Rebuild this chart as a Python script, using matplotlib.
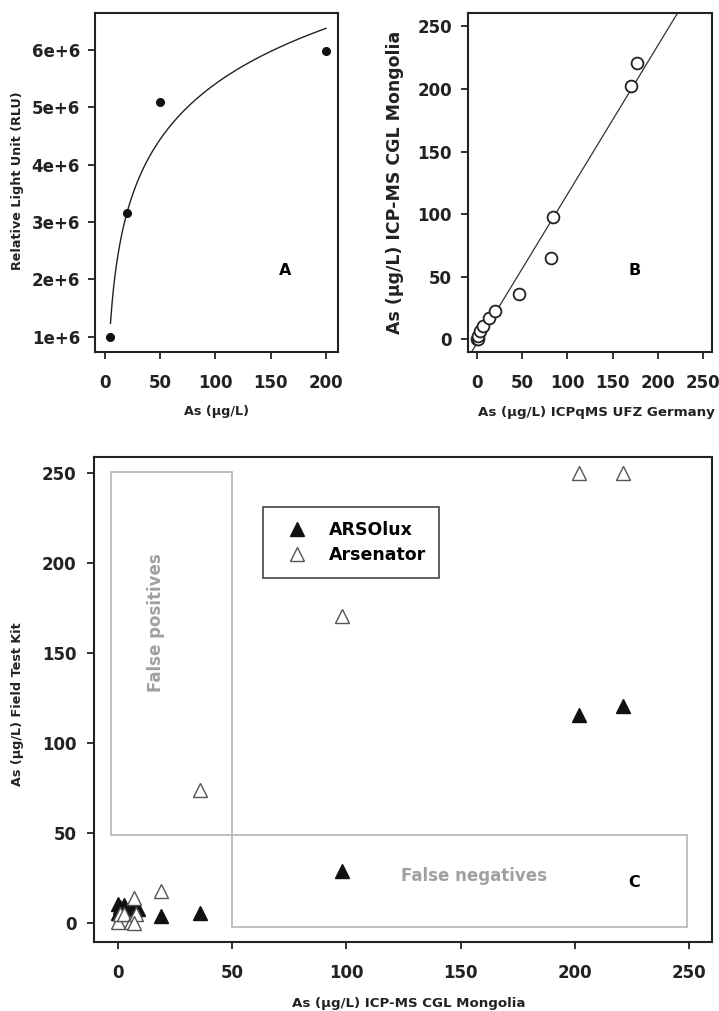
import numpy as np
import matplotlib
matplotlib.use('Agg')
import matplotlib.pyplot as plt
from matplotlib.patches import Rectangle
from matplotlib.lines import Line2D

# ── Data ──────────────────────────────────────────────────────────────────────
# A: biosensor calibration (As standard vs. luminescence)
calib_as  = [5, 20, 50, 200]
calib_rlu = [1.0e6, 3.15e6, 5.09e6, 5.98e6]

# B: lab inter-comparison, UFZ Germany vs. CGL Mongolia
ufz_as = [0, 1, 2, 4, 7, 14, 20, 47, 82, 84, 170, 177]
cgl_as = [0, 0, 3, 7, 11, 17, 23, 36, 65, 98, 202, 221]

# C: field test kits vs. ICP-MS
arsolux_x   = [0, 0, 1, 3, 5, 7, 9, 19, 36, 98, 202, 221]
arsolux_y   = [6, 11, 9, 10, 8, 9, 8, 4, 6, 29, 116, 121]
arsenator_x = [0, 1, 3, 6, 7, 8, 7, 19, 36, 98, 202, 221]
arsenator_y = [1, 5, 5, 1, 14, 5, 0, 18, 74, 171, 250, 250]

ticks_250 = [0, 50, 100, 150, 200, 250]
rlu_ticks = [1e6, 2e6, 3e6, 4e6, 5e6, 6e6]
rlu_labels = ['1e+6', '2e+6', '3e+6', '4e+6', '5e+6', '6e+6']

# ── Style ─────────────────────────────────────────────────────────────────────
plt.rcParams.update({
    'font.family': ['DejaVu Sans'],
    'font.weight': 'bold',
    'axes.edgecolor': '#222222',
    'axes.linewidth': 1.5,
    'xtick.major.size': 4.8,
    'ytick.major.size': 4.8,
    'xtick.major.width': 1.3,
    'ytick.major.width': 1.3,
    'xtick.labelsize': 12,
    'ytick.labelsize': 12,
})

W, H = 719, 1011
fig = plt.figure(figsize=(W / 100, H / 100), dpi=100)


def px_axes(left, top, right, bottom):
    return fig.add_axes([left / W, 1 - bottom / H, (right - left) / W, (bottom - top) / H])


def style(ax, xpad, ypad):
    ax.tick_params(axis='x', pad=xpad, colors='#222222')
    ax.tick_params(axis='y', pad=ypad, colors='#222222')
    for t in ax.get_xticklabels() + ax.get_yticklabels():
        t.set_fontweight('bold')


def label(x, y, text, size, rot=0):
    fig.text(x / W, 1 - y / H, text, ha='center', va='center', rotation=rot,
             fontsize=size, fontweight='bold', color='#222222')


# ── A: calibration curve ──────────────────────────────────────────────────────
axA = px_axes(95, 13.3, 337.7, 351.7)
b, a = np.polyfit(np.log(calib_as), calib_rlu, 1)
xs = np.linspace(min(calib_as), max(calib_as), 300)
axA.plot(xs, a + b * np.log(xs), color='#222222', lw=1.0)
axA.plot(calib_as, calib_rlu, 'o', color='#111111', ms=5.5)
axA.set_xlim(-9, 210.6)
axA.set_ylim(0.738e6, 6.64e6)
axA.set_xticks([0, 50, 100, 150, 200])
axA.set_yticks(rlu_ticks)
axA.set_yticklabels(rlu_labels)
axA.text(163, 2.15e6, 'A', ha='center', va='center', fontsize=11.5, fontweight='bold')
style(axA, 11, 6)
label(18, 181, 'Relative Light Unit (RLU)', 9.2, rot=90)
label(216, 412, 'As (µg/L)', 9.2)

# ── B: lab comparison ─────────────────────────────────────────────────────────
axB = px_axes(468.3, 13.3, 712.3, 351.7)
slope, icpt = np.polyfit(ufz_as, cgl_as, 1)
xl = np.array([-20, 300])
axB.plot(xl, icpt + slope * xl, color='#333333', lw=0.9)
axB.plot(ufz_as, cgl_as, 'o', mfc='white', mec='#222222', mew=1.3, ms=8.5)
axB.set_xlim(-9.2, 259.9)
axB.set_ylim(-9.9, 260.4)
axB.set_xticks(ticks_250)
axB.set_yticks(ticks_250)
axB.text(173.8, 54.7, 'B', ha='center', va='center', fontsize=11.5, fontweight='bold')
style(axB, 11, 7)
label(395, 182, 'As (µg/L) ICP-MS CGL Mongolia', 12.5, rot=90)
label(596, 413, 'As (µg/L) ICPqMS UFZ Germany', 9.6)

# ── C: field kits vs ICP-MS ───────────────────────────────────────────────────
axC = px_axes(94.3, 456.7, 712.3, 941.7)
box_kw = dict(fill=False, edgecolor='#b5b5b5', lw=1.2)
axC.add_patch(Rectangle((-3, 49), 53, 202, **box_kw))
axC.add_patch(Rectangle((50, -2), 199, 51, **box_kw))
axC.text(16.6, 167, 'False positives', rotation=90, ha='center', va='center',
         fontsize=12, fontweight='bold', color='#a0a0a0')
axC.text(156, 26.3, 'False negatives', ha='center', va='center',
         fontsize=12, fontweight='bold', color='#a0a0a0')
axC.text(226, 22.6, 'C', ha='center', va='center', fontsize=11.5, fontweight='bold')

axC.plot(arsolux_x, arsolux_y, '^', color='#111111', ms=9.5, ls='none')
axC.plot(arsenator_x, arsenator_y, '^', mfc='white', mec='#555555', mew=1.0, ms=9.5, ls='none')

axC.set_xlim(-10.2, 260.1)
axC.set_ylim(-10.2, 259.3)
axC.set_xticks(ticks_250)
axC.set_yticks(ticks_250)
style(axC, 11.5, 8)

handles = [
    Line2D([], [], marker='^', ls='none', color='#111111', ms=9.5),
    Line2D([], [], marker='^', ls='none', mfc='white', mec='#555555', mew=1.0, ms=9.5),
]
leg = axC.legend(handles, ['ARSOlux', 'Arsenator'], loc='upper left',
                 bbox_to_anchor=(0.273, 0.896), borderaxespad=0, fancybox=False,
                 framealpha=1, edgecolor='#444444', borderpad=0.78,
                 labelspacing=0.45, handlelength=2.3, handletextpad=0.7,
                 prop={'weight': 'bold', 'size': 12.5})
leg.get_frame().set_linewidth(1.2)

label(18, 704, 'As (µg/L) Field Test Kit', 9.2, rot=90)
label(408.5, 1003, 'As (µg/L) ICP-MS CGL Mongolia', 9.6)

fig.savefig('out.png', dpi=100)
